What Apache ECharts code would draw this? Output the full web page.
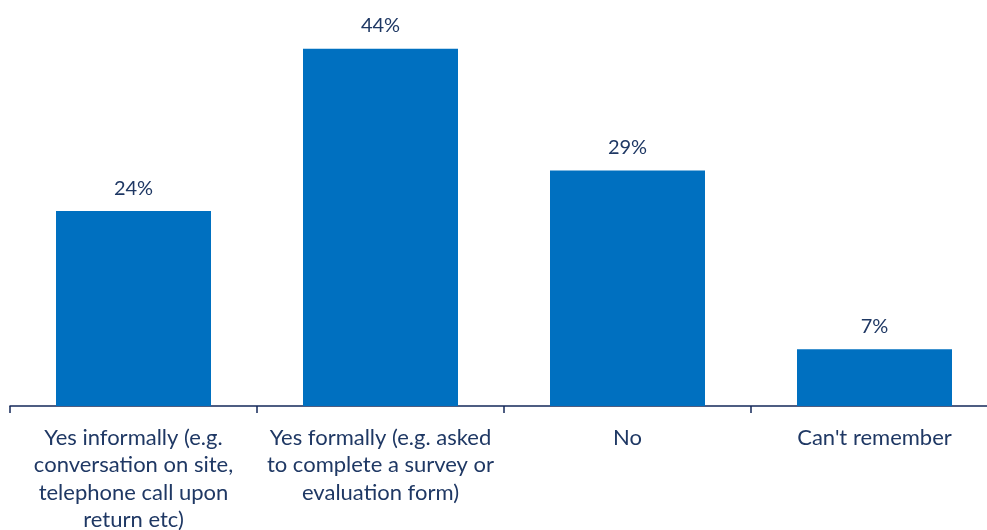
<!DOCTYPE html>
<html><head><meta charset="utf-8">
<script src="https://cdn.jsdelivr.net/npm/echarts@6/dist/echarts.min.js"></script>
<style>html,body{margin:0;padding:0;background:#fff}#c{width:987px;height:530px}</style>
</head><body><div id="c"></div>
<script>
const categories = [
  "Yes informally (e.g.\nconversation on site,\ntelephone call upon\nreturn etc)",
  "Yes formally (e.g. asked\nto complete a survey or\nevaluation form)",
  "No",
  "Can't remember"
];
const values = [24, 44, 29, 7];
const chart = echarts.init(document.getElementById('c'));
chart.setOption({
  animation: false,
  grid: { left: 10, top: 0, right: -11, bottom: 124, containLabel: false, outerBoundsMode: 'none' },
  xAxis: {
    type: 'category', data: categories,
    axisLine: { lineStyle: { color: '#14295a', width: 1.5 } },
    axisTick: { show: true, length: 7, lineStyle: { color: '#14295a', width: 1.5 } },
    axisLabel: { interval: 0, color: '#1f3864', fontFamily: 'Lato', fontSize: 22, lineHeight: 27.5, margin: 18 }
  },
  yAxis: { type: 'value', min: 0, max: 50, show: false, splitLine: { show: false } },
  series: [{
    type: 'bar', data: values, barWidth: 155,
    itemStyle: { color: '#0070c0' },
    label: { show: true, position: 'top', formatter: '{c}%', color: '#1f3864', fontFamily: 'Lato', fontSize: 20, distance: 13 }
  }]
});
</script></body></html>
